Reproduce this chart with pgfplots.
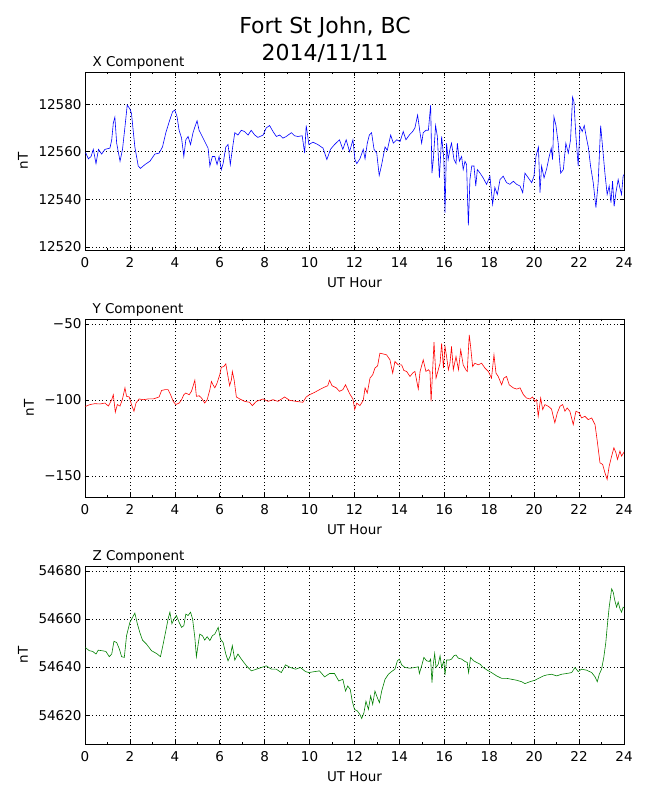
\documentclass[border=0pt]{standalone}
\usepackage{fontspec}
\setmainfont{DejaVu Sans}
\usepackage{pgfplots}
\pgfplotsset{compat=1.18}
\definecolor{mplgreen}{RGB}{0,128,0}
\pgfplotsset{
  panel/.style={
    scale only axis, width=539pt, height=178pt,
    xmin=0, xmax=24, xtick={0,2,...,24}, minor x tick num=1,
    scaled y ticks=false, scaled x ticks=false,
    tick align=inside, major tick length=4pt, minor tick length=2pt,
    grid=major, major grid style={black, line width=0.5pt, dash pattern=on 1pt off 2.5pt},
    axis line style={line width=0.9pt},
    every tick/.style={black, line width=0.6pt},
    tick label style={font=\fontsize{13.5}{16}\selectfont},
    xticklabel style={yshift=-4pt},
    label style={font=\fontsize{13.5}{16}\selectfont},
    every axis title shift=0pt,
    title style={font=\fontsize{13.5}{16}\selectfont, at={(0,1)}, anchor=base west, xshift=4pt, yshift=5.5pt},
    xlabel={UT Hour}, ylabel={nT},
    xlabel style={at={(axis description cs:0.5,0)}, anchor=center, yshift=-33pt},
    ylabel style={at={(axis description cs:-0.115,0.5)}, anchor=center},
    /pgf/number format/assume math mode=true,
    /pgf/number format/1000 sep={},
  }
}
\begin{document}
\begin{tikzpicture}
\useasboundingbox (0,0) rectangle (650pt,800pt);
\node[anchor=base, font=\fontsize{22}{26}\selectfont] at (325pt,766.5pt) {Fort St John, BC};
\node[anchor=base, font=\fontsize{22}{26}\selectfont] at (325pt,739pt) {2014/11/11};
% X component
\begin{axis}[panel, at={(85pt,728pt)}, anchor=north west, title={X Component},
  ymin=12518.7, ymax=12593.5, ytick={12520,12540,12560,12580},
  yticklabels={12520,12540,12560,12580}]
\addplot[blue, line width=0.6pt] coordinates {
(0.00,12559.5)(0.04,12559.4)(0.15,12557)(0.27,12558)(0.37,12561)(0.49,12555)(0.6,12561)(0.74,12559)(0.89,12561)
(1.11,12561.5)(1.19,12565)(1.26,12572)(1.33,12574.5)(1.41,12563.6)(1.56,12556)(1.67,12561)(1.78,12570.5)(1.88,12579.6)
(2.0,12578)(2.07,12576)(2.22,12562)(2.37,12554)(2.47,12553)(2.67,12554.6)(2.89,12556)(3.11,12559)(3.3,12559.4)
(3.45,12562)(3.6,12568)(3.75,12572.6)(3.9,12576.8)(4.0,12577.5)(4.1,12574.7)(4.19,12569)(4.3,12565.7)(4.4,12558)
(4.49,12565)(4.59,12566.4)(4.7,12563)(4.81,12568)(4.9,12570.6)(4.99,12573)(5.08,12569)(5.19,12567)(5.33,12564.3)
(5.48,12561.5)(5.56,12554)(5.67,12558)(5.78,12558)(5.88,12554.6)(5.97,12558)(6.07,12552.5)(6.15,12555)(6.27,12562)
(6.37,12563)(6.47,12554.6)(6.56,12561)(6.67,12568)(6.81,12567)(6.96,12569)(7.1,12568.5)(7.26,12567)(7.4,12569)
(7.56,12567)(7.7,12566)(7.93,12567)(8.07,12570)(8.22,12571)(8.37,12568.5)(8.52,12566.4)(8.67,12567)(8.81,12565.7)
(8.96,12566.4)(9.19,12568)(9.33,12566.7)(9.48,12566.4)(9.67,12566.7)(9.78,12559.4)(9.85,12571)(9.97,12563)
(10.15,12564)(10.37,12563)(10.6,12561.5)(10.77,12556.7)(10.93,12561)(11.11,12563)(11.33,12565)(11.48,12561)
(11.63,12565)(11.78,12560)(11.93,12565)(12.02,12556.7)(12.1,12555)(12.24,12557)(12.39,12561)(12.47,12557)
(12.57,12563.6)(12.66,12567)(12.76,12568)(12.87,12561)(12.99,12559.4)(13.1,12550)(13.21,12554.6)(13.36,12562)
(13.46,12560.6)(13.61,12567)(13.73,12563.6)(13.88,12565)(14.03,12564.3)(14.17,12568.5)(14.29,12565)(14.44,12567)
(14.59,12568.5)(14.69,12570)(14.81,12575.4)(14.92,12567.8)(14.99,12563.6)(15.06,12568)(15.18,12569)(15.29,12569)
(15.39,12579.6)(15.45,12551)(15.51,12556.7)(15.61,12571)(15.69,12566.4)(15.78,12549)(15.88,12566.4)(15.98,12556.7)
(16.03,12534.4)(16.1,12563.6)(16.17,12556.7)(16.25,12561)(16.32,12563.6)(16.43,12556.7)(16.52,12555)(16.58,12563.6)
(16.67,12556)(16.77,12558)(16.84,12552.5)(16.92,12556)(16.99,12554.6)(17.07,12529)(17.14,12548.3)(17.22,12554)
(17.32,12554)(17.4,12545.6)(17.47,12552.5)(17.59,12551)(17.73,12549)(17.88,12546.3)(18.03,12549.7)(18.15,12537.9)
(18.25,12545)(18.36,12542)(18.48,12548.3)(18.62,12549.7)(18.77,12547)(18.92,12546.3)(19.07,12547.6)(19.22,12546.3)
(19.37,12545.6)(19.49,12542.8)(19.59,12551)(19.74,12549)(19.89,12547)(19.99,12549.7)(20.08,12558)(20.19,12562)
(20.26,12542.8)(20.33,12554)(20.44,12549)(20.56,12553)(20.67,12558)(20.76,12561.5)(20.82,12556.7)(20.88,12574.7)
(20.97,12571)(21.07,12563.6)(21.18,12551)(21.3,12552.5)(21.41,12563.6)(21.52,12559.4)(21.62,12565)(21.71,12583)
(21.77,12581)(21.86,12566.4)(21.96,12554)(22.04,12570.6)(22.14,12568.5)(22.23,12571)(22.33,12565.7)(22.41,12562)
(22.51,12554)(22.63,12547)(22.75,12536.5)(22.85,12547)(22.96,12571)(23.07,12559.4)(23.15,12551)(23.25,12542)
(23.34,12545.6)(23.42,12538.6)(23.49,12547.6)(23.56,12537)(23.64,12542.8)(23.74,12548.3)(23.81,12545)(23.89,12542)
(23.96,12549.7)(24.0,12550.4)
};
\end{axis}
% Y component
\begin{axis}[panel, at={(85pt,481pt)}, anchor=north west, title={Y Component},
  ylabel style={at={(axis description cs:-0.104,0.5)}},
  ymin=-163.8, ymax=-46.7, ytick={-150,-100,-50},
  yticklabels={−150,−100,−50}]
\addplot[red, line width=0.6pt] coordinates {
(0.00,-104)(0.04,-104.1)(0.22,-103)(0.44,-102.4)(0.67,-102.6)(0.89,-102)(1.04,-104)(1.19,-99.8)(1.26,-96.5)
(1.35,-108)(1.44,-103)(1.56,-104)(1.67,-99.3)(1.78,-92)(1.85,-97.6)(1.97,-98)(2.07,-103)(2.18,-107.4)(2.27,-102)
(2.41,-99.3)(2.59,-99.8)(2.81,-99.3)(3.04,-99.3)(3.3,-98)(3.41,-93.7)(3.56,-93.2)(3.7,-93.2)(3.81,-96.5)(3.93,-100.9)
(4.04,-103)(4.19,-102)(4.3,-99.8)(4.4,-96.5)(4.49,-95.4)(4.64,-96.5)(4.74,-94.3)(4.81,-91)(4.89,-87)(4.96,-97.6)
(5.08,-97.2)(5.19,-98.7)(5.33,-102)(5.44,-99.8)(5.56,-93.2)(5.63,-87.8)(5.7,-90)(5.78,-92)(5.88,-88.9)(6.0,-83.4)
(6.07,-78.4)(6.18,-78)(6.27,-76.2)(6.34,-82.3)(6.44,-90.6)(6.52,-86.7)(6.56,-81.2)(6.64,-86.7)(6.74,-98)(6.89,-99.3)
(7.11,-100.9)(7.33,-101.5)(7.45,-103.7)(7.63,-100.9)(7.93,-99.3)(8.15,-100.9)(8.37,-99.8)(8.59,-100.9)(8.89,-98)
(9.11,-100.2)(9.41,-100.9)(9.7,-101.5)(9.85,-98)(10.0,-96.5)(10.22,-95)(10.44,-93.2)(10.67,-91.5)(10.81,-90.6)
(10.89,-87)(11.0,-90.6)(11.19,-92)(11.33,-94.3)(11.48,-93.2)(11.6,-90)(11.7,-93.2)(11.81,-96.5)(11.93,-99.3)
(12.01,-106.3)(12.1,-102)(12.24,-103.7)(12.39,-100.2)(12.47,-92)(12.57,-95.4)(12.69,-85.6)(12.81,-83.4)(12.91,-79)
(13.03,-77.5)(13.13,-69.2)(13.28,-69.7)(13.43,-70.3)(13.58,-73.6)(13.7,-82.3)(13.8,-74.7)(13.95,-76.9)(14.1,-76.9)
(14.2,-80.6)(14.32,-81.2)(14.47,-84.5)(14.59,-82.3)(14.69,-81.2)(14.84,-92.8)(14.92,-81.2)(15.06,-73.6)(15.18,-81.2)
(15.29,-80.1)(15.36,-81.2)(15.41,-100.9)(15.48,-80.1)(15.54,-62)(15.63,-85.6)(15.73,-80.1)(15.81,-75.8)(15.88,-62.7)
(15.96,-79)(16.03,-64.8)(16.1,-71.4)(16.18,-80.1)(16.25,-75.8)(16.32,-64.8)(16.4,-80.1)(16.52,-71.4)(16.63,-80.1)
(16.73,-67)(16.84,-76.9)(16.96,-80.1)(17.02,-81.2)(17.11,-57.2)(17.17,-64.8)(17.26,-78)(17.36,-75.8)(17.51,-76.9)
(17.66,-75.8)(17.81,-79)(17.96,-81.2)(18.1,-85.6)(18.21,-70.3)(18.3,-82.3)(18.4,-84.5)(18.55,-90)(18.65,-85.6)
(18.77,-84.5)(18.89,-90)(19.07,-92)(19.22,-92.8)(19.37,-92)(19.52,-96.5)(19.66,-98.7)(19.81,-99.3)(19.93,-98)
(20.03,-100.9)(20.11,-99.8)(20.18,-110.7)(20.29,-98.7)(20.38,-106.3)(20.48,-103)(20.63,-104.1)(20.77,-105.9)
(20.92,-115)(21.03,-108.5)(21.15,-104.1)(21.27,-103)(21.37,-107.4)(21.47,-105.2)(21.59,-107.4)(21.74,-116.2)
(21.86,-107.4)(22.01,-108.5)(22.11,-111.8)(22.26,-110.7)(22.41,-112.9)(22.56,-111.8)(22.71,-116.2)(22.81,-127.1)
(22.93,-141.3)(23.05,-142.4)(23.15,-147.8)(23.25,-152.2)(23.34,-143.5)(23.45,-136.9)(23.55,-131.4)(23.64,-134.7)
(23.71,-139.1)(23.82,-133.6)(23.89,-136.9)(24.0,-134.3)
};
\end{axis}
% Z component
\begin{axis}[panel, at={(85pt,234pt)}, anchor=north west, title={Z Component},
  ymin=54608, ymax=54682, ytick={54620,54640,54660,54680},
  yticklabels={54620,54640,54660,54680}]
\addplot[mplgreen, line width=0.6pt] coordinates {
(0.00,54648)(0.04,54647.9)(0.19,54646.8)(0.34,54646.5)(0.49,54645.4)(0.59,54647)(0.74,54646.8)(0.93,54646.5)
(1.08,54644.3)(1.19,54645.4)(1.29,54650.7)(1.41,54650.2)(1.53,54647.5)(1.63,54644.3)(1.75,54644)(1.85,54653)
(2.0,54658.6)(2.12,54660.7)(2.22,54662.4)(2.33,54658)(2.44,54654.4)(2.56,54651.2)(2.74,54649.5)(2.96,54646.8)
(3.19,54645.6)(3.36,54644.3)(3.48,54649.5)(3.6,54655.1)(3.7,54660)(3.78,54662.8)(3.87,54658)(3.97,54660)
(4.07,54661.4)(4.19,54658.6)(4.3,54656.5)(4.4,54657.2)(4.49,54662)(4.59,54661.4)(4.7,54662.8)(4.79,54660)
(4.89,54652.3)(4.96,54644.3)(5.04,54649.5)(5.11,54653.7)(5.23,54653)(5.33,54651.2)(5.44,54652.6)(5.56,54651)
(5.67,54653)(5.78,54653.7)(5.93,54656.5)(6.03,54651.6)(6.15,54650.2)(6.27,54645.4)(6.37,54642.6)(6.47,54644.7)
(6.56,54648.9)(6.67,54642.9)(6.81,54645.4)(6.96,54643.3)(7.19,54640.5)(7.41,54638.4)(7.63,54639.1)(7.85,54639.8)
(8.07,54640.5)(8.3,54639.1)(8.52,54639.1)(8.74,54637.7)(8.93,54640.9)(9.14,54639.8)(9.38,54639.1)(9.59,54639.8)
(9.82,54638.1)(9.97,54637.7)(10.22,54638.1)(10.44,54638.4)(10.67,54635.9)(10.89,54637.3)(11.11,54637.3)
(11.3,54634.2)(11.48,54634.9)(11.6,54630)(11.7,54632.1)(11.81,54630.7)(11.9,54625.8)(12.0,54622.4)(12.13,54621.7)
(12.24,54620.3)(12.32,54618.6)(12.42,54621)(12.51,54625.8)(12.62,54622.4)(12.72,54628)(12.81,54624.5)(12.91,54630)
(13.02,54627.2)(13.11,54625.2)(13.21,54630)(13.36,54634.9)(13.51,54637)(13.65,54638.1)(13.8,54639.1)(13.91,54642.6)
(14.0,54643.3)(14.1,54640.9)(14.25,54639.8)(14.47,54639.5)(14.69,54639.8)(14.84,54640.1)(14.89,54637.3)(14.99,54640.5)
(15.09,54644)(15.21,54642.6)(15.33,54642.3)(15.39,54643.3)(15.45,54633.5)(15.51,54641.2)(15.57,54645.6)(15.63,54639.8)
(15.73,54641.2)(15.81,54644.7)(15.88,54639.8)(15.98,54642.6)(16.03,54636.7)(16.1,54642.9)(16.22,54642.9)(16.32,54643.3)
(16.43,54644.7)(16.52,54645)(16.62,54643.7)(16.77,54643.3)(16.92,54642.3)(17.02,54641.9)(17.08,54637.7)(17.17,54644)
(17.3,54642.6)(17.44,54641.9)(17.59,54641.2)(17.73,54639.8)(17.91,54638.7)(18.1,54637.7)(18.33,54636.3)(18.55,54635.3)
(18.77,54635.3)(19.0,54634.9)(19.22,54634.5)(19.44,54633.9)(19.59,54633.1)(19.81,54633.9)(20.03,54634.5)(20.26,54635.6)
(20.41,54636.3)(20.56,54636.7)(20.78,54637)(21.0,54636.3)(21.22,54637)(21.44,54637.3)(21.67,54637.7)(21.82,54639.8)
(21.96,54638.1)(22.11,54639.1)(22.33,54638.7)(22.56,54637.7)(22.71,54635.9)(22.81,54633.9)(22.9,54637)(23.0,54639.1)
(23.1,54644)(23.19,54650.2)(23.25,54656.5)(23.34,54664.9)(23.45,54672.5)(23.52,54671.1)(23.59,54667.7)(23.67,54664.9)
(23.74,54667)(23.82,54664.2)(23.89,54662.8)(23.96,54664.9)(24.0,54664.6)
};
\end{axis}
\end{tikzpicture}
\end{document}
